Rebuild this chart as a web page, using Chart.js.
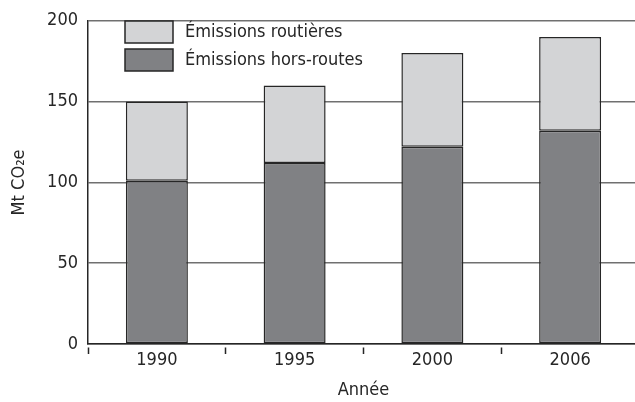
<!DOCTYPE html>
<html>
<head>
<meta charset="utf-8">
<script src="https://cdn.jsdelivr.net/npm/chart.js"></script>
<style>
  html, body { margin: 0; padding: 0; background: #fff; overflow: hidden; }
  #wrap { width: 642px; height: 402px; }
</style>
</head>
<body>
<div id="wrap"><canvas id="emChart"></canvas></div>
<script>
const years = ['1990', '1995', '2000', '2006'];
const horsRoutes = [101, 112, 122, 132];
const routieres = [49, 48, 58, 58];
const yTicks = [0, 50, 100, 150, 200];

const FONT = "'DejaVu Sans Condensed', 'Liberation Sans', sans-serif";
const INK = '#262626';

// legend drawn inside the plot, top-left, light series first
const boxLegend = {
  id: 'boxLegend',
  afterDatasetsDraw(chart) {
    const ctx = chart.ctx;
    const items = chart.data.datasets.slice().reverse();
    ctx.save();
    ctx.font = '18px ' + FONT;
    ctx.textBaseline = 'middle';
    items.forEach((ds, i) => {
      const x = 125, y = 21 + i * 28;
      ctx.fillStyle = ds.backgroundColor;
      ctx.fillRect(x, y, 48, 22);
      ctx.lineWidth = 1.5;
      ctx.strokeStyle = INK;
      ctx.strokeRect(x, y, 48, 22);
      ctx.fillStyle = INK;
      ctx.fillText(ds.label, 185, y + 11);
    });
    ctx.restore();
  }
};

new Chart(document.getElementById('emChart'), {
  type: 'bar',
  data: {
    labels: years,
    datasets: [
      {
        label: 'Émissions hors-routes',
        data: horsRoutes,
        backgroundColor: '#808184',
        borderColor: INK,
        borderWidth: 1.5,
        borderSkipped: false
      },
      {
        label: 'Émissions routières',
        data: routieres,
        backgroundColor: '#d3d4d6',
        borderColor: INK,
        borderWidth: 1.5,
        borderSkipped: false
      }
    ]
  },
  options: {
    responsive: true,
    maintainAspectRatio: false,
    animation: false,
    layout: { padding: { top: 13, right: 3, left: 0, bottom: 0 } },
    datasets: { bar: { categoryPercentage: 1, barPercentage: 0.45 } },
    plugins: {
      legend: { display: false },
      tooltip: { enabled: false }
    },
    scales: {
      x: {
        stacked: true,
        afterFit: s => { s.height = 58; },
        grid: {
          drawOnChartArea: false,
          tickLength: 10,
          tickColor: INK,
          tickWidth: 1.5,
          tickBorderDash: [0, 3, 7, 100]
        },
        border: { color: INK, width: 1.5 },
        ticks: { color: INK, padding: -4, font: { family: FONT, size: 18 } },
        title: {
          display: true,
          text: 'Année',
          color: INK,
          padding: { top: 0, bottom: 1 },
          font: { family: FONT, size: 18 }
        }
      },
      y: {
        stacked: true,
        min: 0,
        max: 200,
        afterFit: s => { s.width = 88; },
        afterBuildTicks: s => { s.ticks = yTicks.map(v => ({ value: v })); },
        grid: {
          drawTicks: false,
          color: '#707070',
          lineWidth: 1.5
        },
        border: { color: INK, width: 1.5 },
        ticks: { color: INK, padding: 10, font: { family: FONT, size: 18 } },
        title: {
          display: true,
          text: 'Mt CO₂e',
          color: INK,
          padding: { top: 9, bottom: 0 },
          font: { family: FONT, size: 18 }
        }
      }
    }
  },
  plugins: [boxLegend]
});
</script>
</body>
</html>
